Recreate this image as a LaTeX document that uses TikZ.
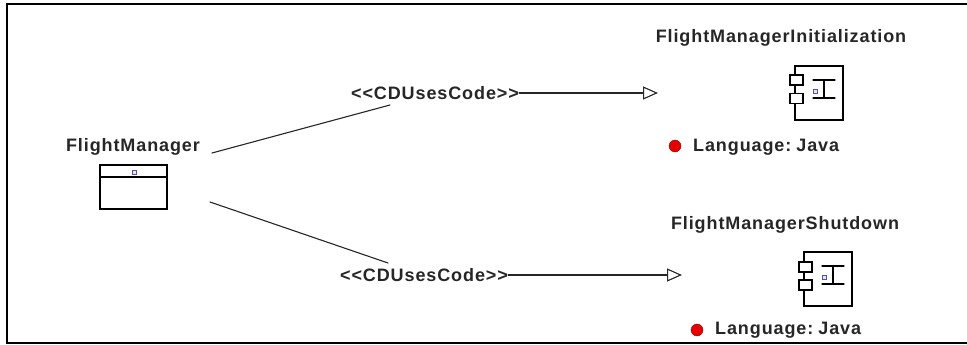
\documentclass[tikz,border=0pt]{standalone}
\usepackage{fontspec}
\newfontfamily\umlfont{Liberation Sans}[LetterSpace=5]
\usetikzlibrary{arrows.meta}

\begin{document}
\begin{tikzpicture}[x=1pt,y=-1pt,line cap=round,
        >={Triangle[open,length=15pt,width=13pt]},
        txt/.style={font=\umlfont\bfseries\fontsize{18}{20}\selectfont,text=black!85,inner sep=0pt},
        dep/.style={draw=black!85,line width=1.1pt},
        mark box/.style={draw=blue!35!gray,fill=blue!10,line width=0.6pt,minimum size=4pt,inner sep=0pt},
        tab/.style={draw,line width=1.2pt,minimum width=13pt,minimum height=10pt,inner sep=0pt,fill=white},
        comp/.style={draw,line width=1.2pt,minimum width=48pt,minimum height=54pt,inner sep=0pt},
        lang/.style={circle,fill=red!90!black,draw=red!60!black,minimum size=12pt,inner sep=0pt}]
            \useasboundingbox (0,0) rectangle (967,345);

            % draw the frame
            \draw[line width=2pt] (967,4) -- (7,4) -- (7,343) -- (967,343);

            % the class FlightManager
            \node[txt] (fm) at (133,147) {FlightManager};
            \node[draw,line width=1.2pt,minimum width=67pt,minimum height=44pt,inner sep=0pt] (fmbox) at (133.5,187) {};
            \draw[line width=1.2pt] (100,177) -- (167,177);
            \node[mark box] (fmmark) at (134,172) {};

            % component FlightManagerInitialization
            \node[txt] (initname) at (781,38) {FlightManagerInitialization};
            \node[comp] (init) at (819,93) {};
            \node[tab] (inittab1) at (796.5,80) {};
            \node[tab] (inittab2) at (796.5,98.5) {};
            \draw[line width=1.2pt] (813,80) -- (835,80) (813,98) -- (835,98) (824,80) -- (824,98);
            \node[mark box] (initmark) at (815,91) {};
            \node[lang] (initdot) at (675,146) {};
            \node[txt,anchor=west] (initlang) at (693,147) {Language:\hspace{5pt}Java};

            % component FlightManagerShutdown
            \node[txt] (downname) at (785,225) {FlightManagerShutdown};
            \node[comp] (down) at (828,279) {};
            \node[tab] (downtab1) at (805.5,267) {};
            \node[tab] (downtab2) at (805.5,285) {};
            \draw[line width=1.2pt] (822,266) -- (844,266) (822,284) -- (844,284) (833,266) -- (833,284);
            \node[mark box] (downmark) at (824,277) {};
            \node[lang] (downdot) at (697,330) {};
            \node[txt,anchor=west] (downlang) at (715,330) {Language:\hspace{5pt}Java};

            % the usage links
            \node[txt] (use1) at (435,93) {<<CDUsesCode>>};
            \node[txt] (use2) at (424,275) {<<CDUsesCode>>};
            \coordinate (fmout1) at (212,153);
            \coordinate (fmout2) at (210,202);
            \coordinate (initin) at (658,93);
            \coordinate (downin) at (682,275);
            \draw[dep] (fmout1) -- (390,105);
            \draw[dep,->] (use1.east) -- (initin);
            \draw[dep] (fmout2) -- (388,263);
            \draw[dep,->] (use2.east) -- (downin);
        \end{tikzpicture}
\end{document}
